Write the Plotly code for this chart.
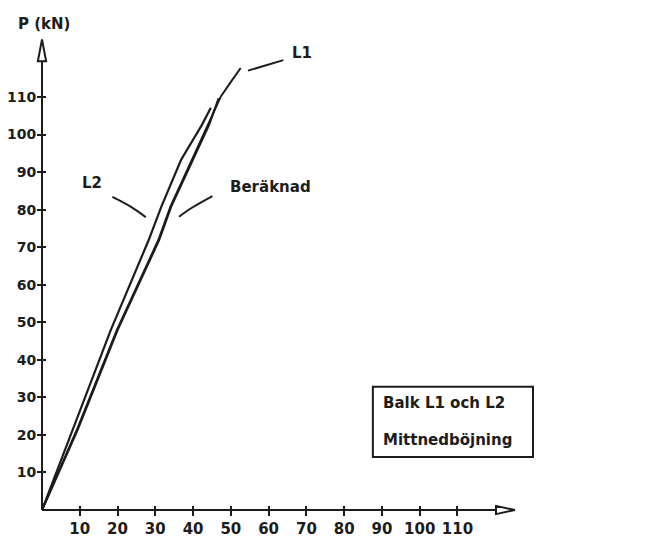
import plotly.graph_objects as go

# ---- data ----
l2_x = [0, 8.05, 18.2, 28.25, 31.6, 36.8, 39.6, 42.3, 44.7]
l2_p = [0, 21.3, 47.9, 71.9, 80.8, 93.2, 98.0, 102.5, 107.1]
ber_x = [0, 9.4, 20.0, 31.0, 34.2, 39.9, 42.2, 44.2, 46.8]
ber_p = [0, 21.3, 47.9, 71.9, 80.8, 93.2, 98.0, 102.5, 109.7]
l1_x = [0, 9.2, 19.8, 30.8, 34.0, 39.7, 42.0, 44.0, 47.4, 50.0, 52.6]
l1_p = [0, 21.3, 47.9, 71.9, 80.8, 93.2, 98.0, 102.5, 110.2, 114.0, 117.7]

x_ticks = [10, 20, 30, 40, 50, 60, 70, 80, 90, 100, 110]
y_ticks = [10, 20, 30, 40, 50, 60, 70, 80, 90, 100, 110]

# leader lines for the curve labels
lead_l2_x = [18.64, 23.48, 27.46]
lead_l2_p = [83.4, 80.8, 78.0]
lead_ber_x = [36.27, 39.37, 45.12]
lead_ber_p = [78.1, 80.3, 83.6]
lead_l1_x = [54.54, 63.91]
lead_l1_p = [117.0, 119.8]

# page has an 8px body margin: figure is drawn 8px right/down in the window
FIG_W, FIG_H = 642, 530
M_L, M_B = 34, 28
XMAX = (FIG_W - M_L) / 3.777
YMAX = (FIG_H - M_B) / 3.755
X_ARROW_BASE, X_ARROW_TIP = 120.2, 125.2
Y_ARROW_BASE, Y_ARROW_TIP = 119.5, 125.3

INK = "#1c1c1c"
FONT = dict(family="DejaVu Sans", size=15, color=INK, weight="bold")
YTICK_FONT = dict(family="DejaVu Sans", size=14, color=INK, weight="bold")

fig = go.Figure()

for xs, ps, name, w in [(l2_x, l2_p, "L2", 2.2), (ber_x, ber_p, "Beräknad", 2.2),
                        (l1_x, l1_p, "L1", 2.0)]:
    fig.add_trace(go.Scatter(x=xs, y=ps, mode="lines", name=name,
                             line=dict(color=INK, width=w),
                             hoverinfo="skip", cliponaxis=False))

for xs, ps in [(lead_l2_x, lead_l2_p), (lead_ber_x, lead_ber_p), (lead_l1_x, lead_l1_p)]:
    fig.add_trace(go.Scatter(x=xs, y=ps, mode="lines", showlegend=False,
                             line=dict(color=INK, width=2, shape="spline"),
                             hoverinfo="skip"))

# dummy trace for overlay axes (inside ticks -> crossing tick marks)
fig.add_trace(go.Scatter(x=[0], y=[0], xaxis="x2", yaxis="y2", mode="markers",
                         marker=dict(opacity=0), hoverinfo="skip", showlegend=False))

def px(v):
    return v / XMAX

def py(v):
    return v / YMAX

ax_line = dict(color=INK, width=2)
shapes = [
    dict(type="line", xref="paper", yref="paper", x0=0, y0=0, x1=px(X_ARROW_BASE), y1=0, line=ax_line),
    dict(type="line", xref="paper", yref="paper", x0=0, y0=0, x1=0, y1=py(Y_ARROW_BASE), line=ax_line),
    dict(type="path", xref="paper", yref="paper",
         path=f"M {px(X_ARROW_BASE)},{py(-1.1)} L {px(X_ARROW_TIP)},0 L {px(X_ARROW_BASE)},{py(1.1)} Z",
         fillcolor="white", line=dict(color=INK, width=2)),
    dict(type="path", xref="paper", yref="paper",
         path=f"M {px(-1.1)},{py(Y_ARROW_BASE)} L 0,{py(Y_ARROW_TIP)} L {px(1.1)},{py(Y_ARROW_BASE)} Z",
         fillcolor="white", line=dict(color=INK, width=2)),
    dict(type="rect", xref="x", yref="y", x0=87.6, y0=14.1, x1=130.0, y1=32.8,
         line=dict(color=INK, width=2), fillcolor="rgba(0,0,0,0)"),
]

annotations = [
    dict(x=13.3, y=87.0, text="L2"),
    dict(x=60.6, y=86.1, text="Beräknad"),
    dict(x=68.9, y=121.6, text="L1"),
    dict(x=89.7, y=28.5, text="Balk L1 och L2", xanchor="left"),
    dict(x=89.7, y=18.6, text="Mittnedböjning", xanchor="left"),
    dict(x=0.45, y=129.4, text="P (kN)"),
    dict(x=144.7, y=-3.5, text="W(L/2) (mm)"),
]
for a in annotations:
    a.setdefault("xanchor", "center")
    a.update(xref="x", yref="y", showarrow=False, yanchor="middle", font=FONT)

axis_common = dict(showgrid=False, zeroline=False, showline=False)
fig.update_layout(
    width=FIG_W, height=FIG_H,
    margin=dict(l=M_L, r=0, t=0, b=M_B, autoexpand=False),
    paper_bgcolor="white", plot_bgcolor="white",
    showlegend=False,
    font=FONT,
    xaxis=dict(range=[0, XMAX], tickvals=x_ticks, ticks="outside", ticklen=5,
               tickwidth=2, tickcolor=INK, tickfont=FONT, automargin=False, **axis_common),
    yaxis=dict(range=[0, YMAX], tickvals=y_ticks, ticks="outside", ticklen=4,
               tickwidth=2, tickcolor=INK, tickfont=YTICK_FONT, automargin=False,
               ticklabelstandoff=-2, **axis_common),
    xaxis2=dict(range=[0, XMAX], tickvals=x_ticks, ticks="inside", ticklen=4,
                tickwidth=2, tickcolor=INK, showticklabels=False, overlaying="x",
                anchor="y", side="bottom", **axis_common),
    yaxis2=dict(range=[0, YMAX], tickvals=y_ticks, ticks="inside", ticklen=4,
                tickwidth=2, tickcolor=INK, showticklabels=False, overlaying="y",
                anchor="x", side="left", **axis_common),
    shapes=shapes,
    annotations=annotations,
)

fig.write_html("out.html")
